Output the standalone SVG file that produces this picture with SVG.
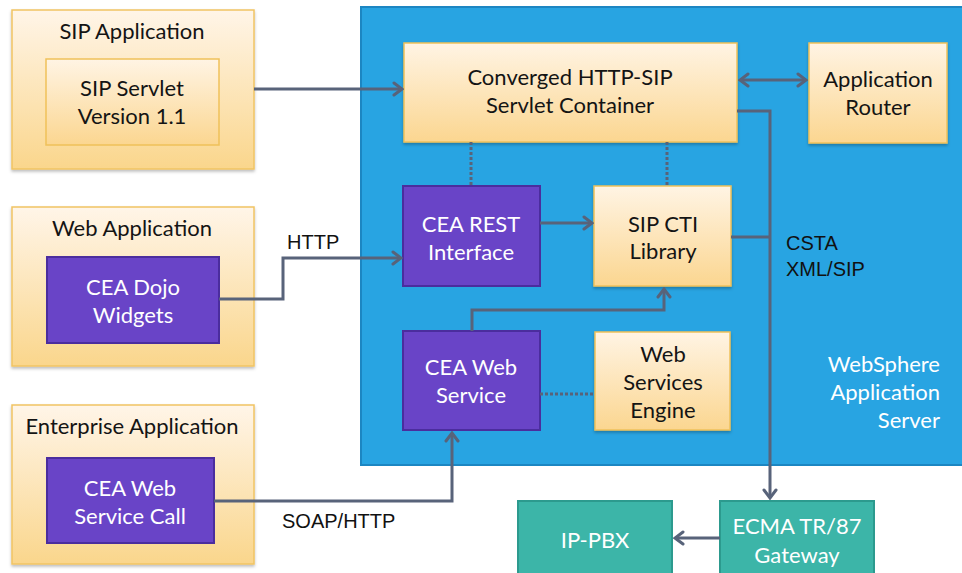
<svg xmlns="http://www.w3.org/2000/svg" width="962" height="573" viewBox="0 0 962 573">
<defs>
<linearGradient id="og" x1="0" y1="0" x2="0" y2="1">
<stop offset="0" stop-color="#FFF4E4"/>
<stop offset="1" stop-color="#FBD690"/>
</linearGradient>
<linearGradient id="og2" x1="0" y1="0" x2="0" y2="1">
<stop offset="0" stop-color="#FFF5E8"/>
<stop offset="1" stop-color="#FAD68C"/>
</linearGradient>
<filter id="sh" x="-10%" y="-10%" width="120%" height="125%">
<feDropShadow dx="0" dy="2" stdDeviation="1.5" flood-color="#000" flood-opacity="0.25"/>
</filter>
<marker id="ah" viewBox="-12 -8 14 16" refX="0" refY="0" markerWidth="14" markerHeight="16" markerUnits="userSpaceOnUse" orient="auto-start-reverse">
<path d="M-8,-6 L0,0 L-8,6" fill="none" stroke="#58637A" stroke-width="3" stroke-linejoin="miter" stroke-linecap="round"/>
</marker>
<style>
.app{fill:url(#og2);stroke:#F1C463;stroke-width:1.5;filter:url(#sh)}
.or{fill:url(#og);stroke:#EFC15A;stroke-width:1.5;filter:url(#sh)}
.in{fill:url(#og);stroke:#EFC15A;stroke-width:1.5}
.pu{fill:#6944C7;stroke:#4B2D9E;stroke-width:2}
.te{fill:#3CB5A8;stroke:#2C9A8E;stroke-width:2}
.t{font-family:Lato,"Open Sans",sans-serif;font-size:22px;fill:#141414;text-anchor:middle}
.w{fill:#FFFFFF}
.a{font-family:"Liberation Sans",Arial,sans-serif;font-size:20px;fill:#111}
.c{fill:none;stroke:#58637A;stroke-width:3}
.d{fill:none;stroke:#58637A;stroke-width:3;stroke-dasharray:3 2}
</style>
</defs>
<rect width="962" height="573" fill="#FFFFFF"/>

<g id="websphere">
<rect x="361" y="7" width="610" height="458" fill="#28A4E2" stroke="#1C86C2" stroke-width="2"/>
<text class="t w" style="text-anchor:end" x="940" y="372">WebSphere</text>
<text class="t w" style="text-anchor:end" x="940" y="400">Application</text>
<text class="t w" style="text-anchor:end" x="940" y="428">Server</text>
</g>

<g id="sip-application">
<rect class="app" x="12" y="10" width="242" height="159"/>
<text class="t" x="132" y="39">SIP Application</text>
<rect class="in" x="46" y="59" width="173" height="86"/>
<text class="t" x="132" y="96">SIP Servlet</text>
<text class="t" x="132" y="124">Version 1.1</text>
</g>

<g id="web-application">
<rect class="app" x="12" y="207" width="242" height="159"/>
<text class="t" x="132" y="236">Web Application</text>
<rect class="pu" x="47" y="257" width="172" height="86"/>
<text class="t w" x="133" y="295">CEA Dojo</text>
<text class="t w" x="133" y="323">Widgets</text>
</g>

<g id="enterprise-application">
<rect class="app" x="12" y="405" width="242" height="159"/>
<text class="t" x="132" y="434">Enterprise Application</text>
<rect class="pu" x="47" y="458" width="167" height="85"/>
<text class="t w" x="130" y="496">CEA Web</text>
<text class="t w" x="130" y="524">Service Call</text>
</g>

<g id="converged-container">
<rect class="or" x="404" y="43" width="333" height="99"/>
<text class="t" x="570" y="85">Converged HTTP-SIP</text>
<text class="t" x="570" y="113">Servlet Container</text>
</g>

<g id="application-router">
<rect class="or" x="809" y="43" width="138" height="100"/>
<text class="t" x="878" y="87">Application</text>
<text class="t" x="878" y="115">Router</text>
</g>

<g id="cea-rest">
<rect class="pu" x="403" y="186" width="137" height="100"/>
<text class="t w" x="471" y="232">CEA REST</text>
<text class="t w" x="471" y="260">Interface</text>
</g>

<g id="sip-cti">
<rect class="or" x="594" y="186" width="137" height="100"/>
<text class="t" x="663" y="232">SIP CTI</text>
<text class="t" x="663" y="259">Library</text>
</g>

<g id="cea-web-service">
<rect class="pu" x="403" y="331" width="137" height="99"/>
<text class="t w" x="471" y="375">CEA Web</text>
<text class="t w" x="471" y="403">Service</text>
</g>

<g id="web-services-engine">
<rect class="or" x="595" y="332" width="135" height="98"/>
<text class="t" x="663" y="362">Web</text>
<text class="t" x="663" y="390">Services</text>
<text class="t" x="663" y="418">Engine</text>
</g>

<g id="ip-pbx">
<rect class="te" x="518" y="501" width="154" height="80"/>
<text class="t w" x="595" y="548">IP-PBX</text>
</g>

<g id="ecma-gateway">
<rect class="te" x="720" y="501" width="154" height="80"/>
<text class="t w" x="797" y="534">ECMA TR/87</text>
<text class="t w" x="797" y="563">Gateway</text>
</g>

<g id="connectors">
<path class="c" d="M254,89 H402" marker-end="url(#ah)"/>
<path class="c" d="M740,80 H806" marker-start="url(#ah)" marker-end="url(#ah)"/>
<path class="d" d="M471,142 V186"/>
<path class="d" d="M667,142 V186"/>
<path class="c" d="M540,223 H592" marker-end="url(#ah)"/>
<path class="c" d="M219,299 H283 V258 H401" marker-end="url(#ah)"/>
<path class="c" d="M472,331 V310 H664 V289" marker-end="url(#ah)"/>
<path class="d" d="M540,394 H595"/>
<path class="c" d="M214,501 H452 V433" marker-end="url(#ah)"/>
<path class="c" d="M737,111 H770 V498" marker-end="url(#ah)"/>
<path class="c" d="M731,237 H770"/>
<path class="c" d="M720,538 H675" marker-end="url(#ah)"/>
<text class="a" x="287" y="249">HTTP</text>
<text class="a" x="786" y="250">CSTA</text>
<text class="a" x="786" y="276">XML/SIP</text>
<text class="a" x="282" y="528">SOAP/HTTP</text>
</g>
</svg>
